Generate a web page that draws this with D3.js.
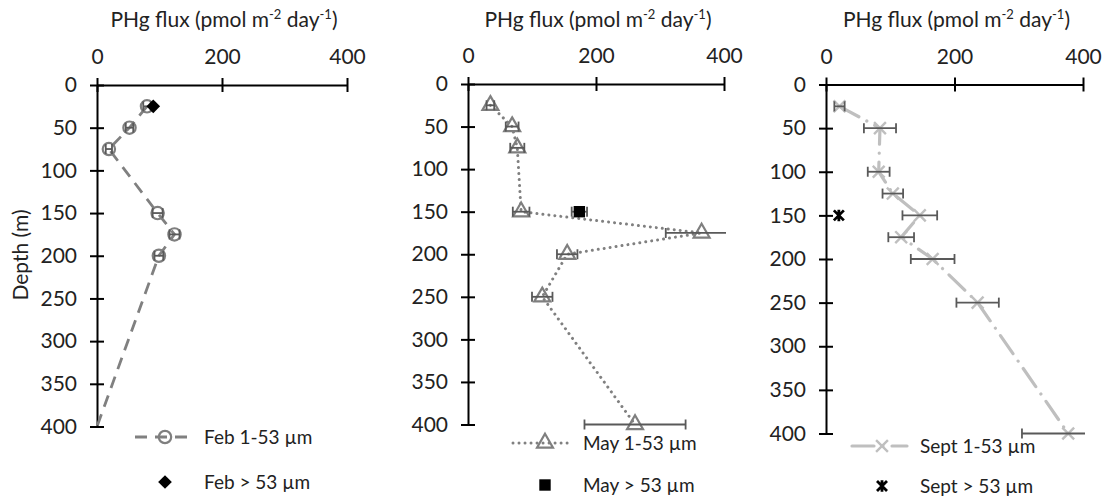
<!DOCTYPE html>
<html><head><meta charset="utf-8">
<script src="https://cdn.jsdelivr.net/npm/d3@7"></script>
<style>
body{margin:0;background:#fff}
svg{display:block}
text{font-family:Lato,"Open Sans",sans-serif;fill:#222}
</style>
</head><body>
<svg id="chart" width="1109" height="500"></svg>
<script>
// ---------- data ----------
const xTicks = [0, 200, 400];
const xMinorTicks = [50, 100, 150, 250, 300, 350];
const yTicks = [0, 50, 100, 150, 200, 250, 300, 350, 400];
const yMinorTicks = d3.range(0, 401, 10).filter(d => d % 50 !== 0);

const febDepth = [25, 50, 75, 150, 175, 200, 400];
const febFlux  = [80, 52, 19, 97, 124, 99, 0];
const febErr   = [6, 6, 5, 8, 8, 7, 0];
const febLargeDepth = [25];
const febLargeFlux  = [90];

const mayDepth = [25, 50, 75, 150, 175, 200, 250, 400];
const mayFlux  = [35, 69, 77, 83, 365, 155, 116, 261];
const mayErr   = [6, 10, 11, 13, 56, 16, 16, 79];
const mayLargeDepth = [150];
const mayLargeFlux  = [174];
const mayLargeErr   = [12];

const septDepth = [25, 50, 100, 125, 150, 175, 200, 250, 400];
const septFlux  = [21, 84, 82, 104, 146, 117, 166, 236, 377];
const septErr   = [8, 25, 17, 16, 27, 20, 34, 33, 72];
const septLargeDepth = [150];
const septLargeFlux  = [20];

const legendLabels = [
  ["Feb 1-53 µm", "Feb > 53 µm"],
  ["May 1-53 µm", "May > 53 µm"],
  ["Sept 1-53 µm", "Sept > 53 µm"]
];

// ---------- custom symbols ----------
const symX = {draw(ctx, size){ const r = Math.sqrt(size)/2;
  ctx.moveTo(-r,-r); ctx.lineTo(r,r); ctx.moveTo(r,-r); ctx.lineTo(-r,r);} };
const symAst = {draw(ctx, size){ const r = Math.sqrt(size)/2;
  ctx.moveTo(-r,-r); ctx.lineTo(r,r); ctx.moveTo(r,-r); ctx.lineTo(-r,r);
  ctx.moveTo(0,-r*1.15); ctx.lineTo(0,r*1.15);} };
const symDiamond = {draw(ctx, size){ const r = Math.sqrt(size)/2*1.25;
  ctx.moveTo(0,-r); ctx.lineTo(r,0); ctx.lineTo(0,r); ctx.lineTo(-r,0); ctx.closePath();} };

const svg = d3.select("#chart");

const panels = [
  {x0:97, x1:347, y0:85, y1:426.5,
   small:{depth:febDepth, flux:febFlux, err:febErr},
   large:{depth:febLargeDepth, flux:febLargeFlux, err:null},
   line:{color:"#808080", width:2.8, dash:"12,8", cap:"butt"},
   mk:{type:d3.symbolCircle, size:120, stroke:"#7f7f7f", sw:2.2},
   lmk:{type:symDiamond, size:120, fill:"#000", stroke:"none", sw:0},
   leg:{x1:135, x2:195, y:437, mx:165, y2:482, tx:204, ty2:482}},
  {x0:468, x1:724, y0:84, y1:424.5,
   small:{depth:mayDepth, flux:mayFlux, err:mayErr},
   large:{depth:mayLargeDepth, flux:mayLargeFlux, err:mayLargeErr},
   line:{color:"#808080", width:3, dash:"0.01,6", cap:"round"},
   mk:{type:d3.symbolTriangle, size:110, stroke:"#7f7f7f", sw:2.2},
   lmk:{type:d3.symbolSquare, size:130, fill:"#000", stroke:"none", sw:0},
   leg:{x1:513, x2:572, y:443, mx:545, y2:485, tx:583, ty2:485}},
  {x0:826, x1:1083, y0:84.5, y1:433.5,
   small:{depth:septDepth, flux:septFlux, err:septErr},
   large:{depth:septLargeDepth, flux:septLargeFlux, err:null},
   line:{color:"#bfbfbf", width:3.2, dash:"22,9,0.01,9", cap:"round"},
   mk:{type:symX, size:140, stroke:"#bfbfbf", sw:2.4},
   lmk:{type:symAst, size:100, fill:"none", stroke:"#000", sw:2.8},
   leg:{x1:852, x2:907, y:446, mx:882, y2:486, tx:920, ty2:486}}
];

panels.forEach((p, i) => {
  const x = d3.scaleLinear().domain([0, 400]).range([p.x0, p.x1]);
  const y = d3.scaleLinear().domain([0, 400]).range([p.y0, p.y1]);
  const g = svg.append("g");

  const clipId = "clip" + i;
  svg.append("clipPath").attr("id", clipId).append("rect")
    .attr("x", p.x0 - 2).attr("y", 0).attr("width", p.x1 - p.x0 + 4).attr("height", 500);

  // title
  const t = g.append("text").attr("x", (p.x0 + p.x1) / 2 + 2).attr("y", 27)
    .attr("text-anchor", "middle").style("font-size", "21px");
  t.append("tspan").text("PHg flux (pmol m");
  t.append("tspan").text("-2").attr("dy", -8).style("font-size", "13px");
  t.append("tspan").text(" day").attr("dy", 8);
  t.append("tspan").text("-1").attr("dy", -8).style("font-size", "13px");
  t.append("tspan").text(")").attr("dy", 8);

  // x axis (top)
  const gx = g.append("g").attr("transform", `translate(0,${p.y0})`);
  gx.call(d3.axisTop(x).tickValues(xMinorTicks).tickSizeInner(-7).tickSizeOuter(0).tickFormat(""));
  gx.call(d3.axisTop(x).tickValues(xTicks).tickSizeOuter(0).tickSizeInner(7));
  gx.selectAll(".tick line").filter(d => xTicks.includes(d)).attr("y1", 7).attr("y2", -7);
  gx.selectAll(".tick text").attr("y", -28).attr("dy", "0.35em").style("font-size", "21px").attr("fill", "#222");
  gx.selectAll("line, path").attr("stroke", "#000").attr("stroke-width", 2);

  // y axis (left)
  const gy = g.append("g").attr("transform", `translate(${p.x0},0)`);
  gy.call(d3.axisLeft(y).tickValues(yMinorTicks).tickSizeInner(-7).tickSizeOuter(0).tickFormat(""));
  gy.call(d3.axisLeft(y).tickValues(yTicks).tickSizeOuter(0).tickSizeInner(7));
  gy.selectAll(".tick line").filter(d => yTicks.includes(d)).attr("x1", 7).attr("x2", -7);
  gy.selectAll(".tick text").attr("x", -20).style("font-size", "21px").attr("fill", "#222");
  gy.selectAll("line, path").attr("stroke", "#000").attr("stroke-width", 2);

  // series line
  const pts = p.small.depth.map((d, k) => [p.small.flux[k], d]);
  g.append("path").datum(pts)
    .attr("d", d3.line().x(d => x(d[0])).y(d => y(d[1])))
    .attr("fill", "none").attr("stroke", p.line.color).attr("stroke-width", p.line.width)
    .attr("stroke-dasharray", p.line.dash).attr("stroke-linecap", p.line.cap);

  // markers (points sitting on the axis are hidden, as in the source)
  g.selectAll(null).data(pts.filter(d => d[0] > 0)).join("path")
    .attr("transform", d => `translate(${x(d[0])},${y(d[1])})`)
    .attr("d", d3.symbol(p.mk.type, p.mk.size))
    .attr("fill", "none").attr("stroke", p.mk.stroke).attr("stroke-width", p.mk.sw);

  const lpts = p.large.depth.map((d, k) => [p.large.flux[k], d, p.large.err ? p.large.err[k] : 0]);

  // error bars
  const eg = g.append("g").attr("clip-path", `url(#${clipId})`)
    .attr("stroke", "#595959").attr("stroke-width", 1.8);
  const bars = p.small.depth.map((d, k) => [p.small.flux[k], d, p.small.err[k]])
    .concat(lpts).filter(d => d[2] > 0);
  bars.forEach(b => {
    const yy = y(b[1]);
    eg.append("line").attr("x1", x(b[0] - b[2])).attr("x2", x(b[0] + b[2])).attr("y1", yy).attr("y2", yy);
    [b[0] - b[2], b[0] + b[2]].forEach(v => {
      eg.append("line").attr("x1", x(v)).attr("x2", x(v)).attr("y1", yy - 5).attr("y2", yy + 5);
    });
  });

  g.selectAll(null).data(lpts).join("path")
    .attr("transform", d => `translate(${x(d[0])},${y(d[1])})`)
    .attr("d", d3.symbol(p.lmk.type, p.lmk.size))
    .attr("fill", p.lmk.fill).attr("stroke", p.lmk.stroke).attr("stroke-width", p.lmk.sw);

  // legend
  const L = p.leg;
  g.append("line").attr("x1", L.x1).attr("x2", L.x2).attr("y1", L.y).attr("y2", L.y)
    .attr("stroke", p.line.color).attr("stroke-width", p.line.width)
    .attr("stroke-dasharray", p.line.dash).attr("stroke-linecap", p.line.cap);
  g.append("path").attr("transform", `translate(${L.mx},${L.y})`)
    .attr("d", d3.symbol(p.mk.type, p.mk.size))
    .attr("fill", "none").attr("stroke", p.mk.stroke).attr("stroke-width", p.mk.sw);
  g.append("text").attr("x", L.tx).attr("y", L.y).attr("dy", "0.35em")
    .style("font-size", "19px").text(legendLabels[i][0]);
  g.append("path").attr("transform", `translate(${L.mx},${L.y2})`)
    .attr("d", d3.symbol(p.lmk.type, p.lmk.size))
    .attr("fill", p.lmk.fill).attr("stroke", p.lmk.stroke).attr("stroke-width", p.lmk.sw);
  g.append("text").attr("x", L.tx).attr("y", L.ty2).attr("dy", "0.35em")
    .style("font-size", "19px").text(legendLabels[i][1]);
});

// y axis title
svg.append("text").attr("transform", "translate(21,255) rotate(-90)")
  .attr("text-anchor", "middle").attr("dy", "0.35em").style("font-size", "21px").text("Depth (m)");
</script>
</body></html>
